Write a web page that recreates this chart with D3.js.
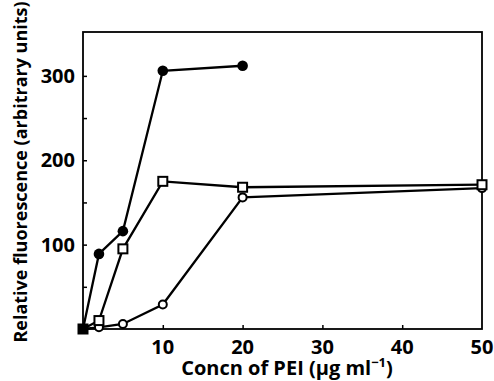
<!DOCTYPE html>
<html>
<head>
<meta charset="utf-8">
<script src="https://cdn.jsdelivr.net/npm/d3@7"></script>
<style>
  html, body { margin: 0; padding: 0; background: #fff; }
  svg { display: block; }
  text { font-family: "Open Sans", sans-serif; font-weight: 700; fill: #000; }
</style>
</head>
<body>
<svg id="chart" width="494" height="381"></svg>
<script>
// Data
const concentrations = [0, 2, 5, 10, 20, 50];
const filledCircles = [0, 89, 116, 306, 312, null];
const openSquares   = [0, 10, 95, 175, 168, 171];
const openCircles   = [0, 2, 6, 29, 156, 167];
const xTickLabels = [10, 20, 30, 40, 50];
const yTickLabels = [100, 200, 300];
const yMinorTicks = [50, 100, 150, 200, 250, 300];

const svg = d3.select("#chart");
const x = d3.scaleLinear().domain([0, 50]).range([83, 482]);
const y = d3.scaleLinear().domain([0, 352]).range([329, 32]);

// frame
svg.append("rect")
  .attr("x", x(0)).attr("y", y(352))
  .attr("width", x(50) - x(0)).attr("height", y(0) - y(352))
  .attr("fill", "none").attr("stroke", "#000").attr("stroke-width", 1.8);

// y axis (ticks inward)
const yAxis = d3.axisRight(y).tickValues(yMinorTicks).tickSize(4).tickFormat("");
svg.append("g").attr("transform", `translate(${x(0)},0)`).call(yAxis)
  .call(g => g.select(".domain").remove())
  .call(g => g.selectAll("line").attr("stroke-width", 1.5));
svg.append("g").selectAll("text").data(yTickLabels).join("text")
  .attr("x", 75).attr("y", d => y(d)).attr("dy", "0.36em")
  .attr("text-anchor", "end").attr("font-size", 20).text(d => d);

// x axis (ticks inward)
const xAxis = d3.axisTop(x).tickValues([10, 20, 30, 40]).tickSize(4).tickFormat("");
svg.append("g").attr("transform", `translate(0,${y(0)})`).call(xAxis)
  .call(g => g.select(".domain").remove())
  .call(g => g.selectAll("line").attr("stroke-width", 1.5));
svg.append("g").selectAll("text").data(xTickLabels).join("text")
  .attr("x", d => x(d)).attr("y", 354)
  .attr("text-anchor", "middle").attr("font-size", 20).text(d => d);

// axis titles
svg.append("text")
  .attr("transform", `translate(27,172) rotate(-90)`)
  .attr("text-anchor", "middle").attr("font-size", 18)
  .text("Relative fluorescence (arbitrary units)");
const xt = svg.append("text")
  .attr("x", 287).attr("y", 375).attr("text-anchor", "middle").attr("font-size", 20);
xt.append("tspan").text("Concn of PEI (μg ml");
xt.append("tspan").attr("font-size", 13).attr("dy", -8).text("−1");
xt.append("tspan").attr("dy", 8).text(")");

function series(vals) {
  return concentrations.map((c, i) => ({ c, v: vals[i] })).filter(d => d.v !== null);
}
const line = d3.line().x(d => x(d.c)).y(d => y(d.v));

const sets = [
  { data: series(openCircles), kind: "ocircle" },
  { data: series(openSquares), kind: "osquare" },
  { data: series(filledCircles), kind: "fcircle" }
];

sets.forEach(s => {
  svg.append("path").datum(s.data).attr("d", line)
    .attr("fill", "none").attr("stroke", "#000").attr("stroke-width", 2.3);
});

sets.forEach(s => {
  const g = svg.append("g");
  if (s.kind === "fcircle") {
    g.selectAll("circle").data(s.data.filter(d => d.c > 0)).join("circle")
      .attr("cx", d => x(d.c)).attr("cy", d => y(d.v)).attr("r", 5.3).attr("fill", "#000");
  } else if (s.kind === "ocircle") {
    g.selectAll("circle").data(s.data.filter(d => d.c > 0)).join("circle")
      .attr("cx", d => x(d.c)).attr("cy", d => y(d.v)).attr("r", 4)
      .attr("fill", "#fff").attr("stroke", "#000").attr("stroke-width", 2);
  } else {
    g.selectAll("rect").data(s.data).join("rect")
      .attr("x", d => x(d.c) - 4.5).attr("y", d => y(d.v) - 4.5)
      .attr("width", 9).attr("height", 9)
      .attr("fill", d => d.c === 0 ? "#000" : "#fff")
      .attr("stroke", "#000").attr("stroke-width", 2);
  }
});
</script>
</body>
</html>
